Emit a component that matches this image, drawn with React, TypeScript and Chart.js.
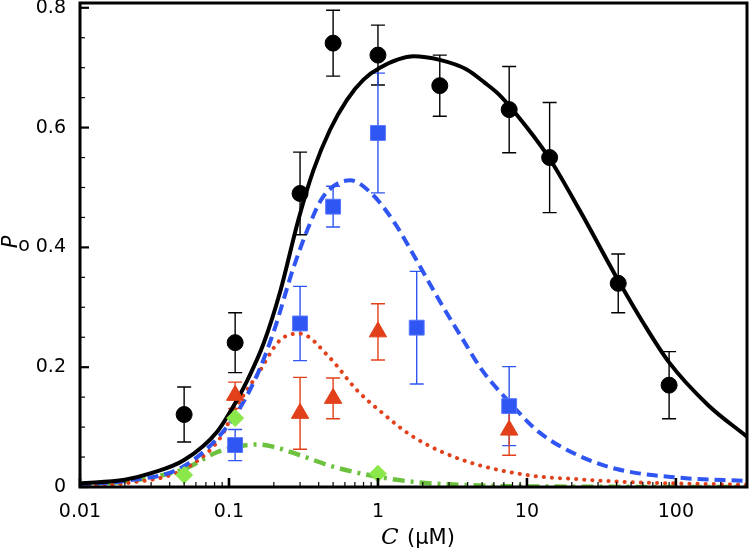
import React, { useEffect, useRef } from "react";
import { Chart, registerables } from "chart.js";
Chart.register(...registerables);

// ---- axis ticks ----
const xTickValues = [0.01, 0.1, 1, 10, 100];
const xTickLabels = ["0.01", "0.1", "1", "10", "100"];
const yTickValues = [0, 0.2, 0.4, 0.6, 0.8];
const yTickLabels = ["0", "0.2", "0.4", "0.6", "0.8"];

// ---- measured data (C in µM, Po, error) ----
const totalC = [0.05, 0.11, 0.3, 0.5, 1.0, 2.6, 7.6, 14.2, 41, 90];
const totalPo = [0.121, 0.241, 0.49, 0.741, 0.721, 0.67, 0.63, 0.55, 0.34, 0.17];
const totalErr = [0.046, 0.05, 0.069, 0.055, 0.05, 0.051, 0.072, 0.092, 0.049, 0.056];

const blueC = [0.11, 0.3, 0.5, 1.0, 1.82, 7.6];
const bluePo = [0.07, 0.273, 0.468, 0.591, 0.266, 0.135];
const blueErr = [0.026, 0.062, 0.034, 0.1, 0.094, 0.066];

const redC = [0.11, 0.3, 0.5, 1.0, 7.6];
const redPo = [0.153, 0.123, 0.148, 0.259, 0.095];
const redErr = [0.022, 0.06, 0.034, 0.047, 0.042];

const greenC = [0.05, 0.11, 1.0];
const greenPo = [0.02, 0.115, 0.022];

// ---- fitted curves ----
const fitTotalC = [0.01, 0.02, 0.03, 0.05, 0.083, 0.113, 0.131, 0.171, 0.22, 0.293, 0.369, 0.476, 0.618, 0.8, 1.03, 1.73, 2.6, 3.94, 5.2, 6.5, 10, 14.2, 22.6, 41, 60, 90, 164, 300];
const fitTotalPo = [0.006, 0.012, 0.023, 0.045, 0.092, 0.145, 0.175, 0.24, 0.325, 0.447, 0.529, 0.596, 0.646, 0.68, 0.7, 0.719, 0.713, 0.697, 0.675, 0.655, 0.6, 0.548, 0.462, 0.345, 0.275, 0.208, 0.137, 0.084];

const fitBlueC = [0.01, 0.02, 0.05, 0.1, 0.15, 0.2, 0.27, 0.35, 0.43, 0.65, 0.93, 1.3, 1.82, 2.6, 3.7, 5, 7.6, 12, 22, 40, 100, 300];
const fitBluePo = [0.005, 0.01, 0.035, 0.105, 0.18, 0.26, 0.365, 0.44, 0.485, 0.512, 0.487, 0.44, 0.378, 0.31, 0.247, 0.195, 0.142, 0.092, 0.053, 0.03, 0.016, 0.01];

const fitRedC = [0.01, 0.02, 0.05, 0.088, 0.11, 0.132, 0.154, 0.22, 0.3, 0.47, 0.72, 1.02, 1.72, 3.7, 10, 22, 50, 100, 300];
const fitRedPo = [0.002, 0.006, 0.03, 0.083, 0.13, 0.162, 0.186, 0.245, 0.256, 0.217, 0.162, 0.128, 0.084, 0.045, 0.02, 0.013, 0.008, 0.006, 0.004];

const fitGreenC = [0.01, 0.02, 0.03, 0.05, 0.083, 0.112, 0.154, 0.2, 0.3, 0.5, 1.0, 1.82, 3.0, 10, 300];
const fitGreenPo = [0.005, 0.009, 0.016, 0.03, 0.058, 0.067, 0.071, 0.067, 0.053, 0.034, 0.017, 0.008, 0.0045, 0.001, 0.0];

const BLACK = "#000000";
const BLUE = "#2f55f2";
const RED = "#e2401a";
const GREEN_LINE = "#6cc23e";
const GREEN_MARK = "#8ae84a";
const FONT = "'DejaVu Sans'";

const pts = (xs: number[], ys: number[]) => xs.map((x, i) => ({ x, y: ys[i] }));

const errorSets = [
  { c: totalC, p: totalPo, e: totalErr, color: BLACK },
  { c: blueC, p: bluePo, e: blueErr, color: BLUE },
  { c: redC, p: redPo, e: redErr, color: RED },
];

const decorPlugin = {
  id: "decor",
  beforeDatasetsDraw(chart: any) {
    const { ctx, scales, chartArea } = chart;
    const xs = scales.x;
    const ys = scales.y;
    ctx.save();
    ctx.beginPath();
    ctx.rect(chartArea.left, chartArea.top, chartArea.right - chartArea.left, chartArea.bottom - chartArea.top);
    ctx.clip();
    ctx.lineWidth = 1.4;
    for (const s of errorSets) {
      ctx.strokeStyle = s.color;
      for (let i = 0; i < s.c.length; i++) {
        const px = xs.getPixelForValue(s.c[i]);
        const y1 = ys.getPixelForValue(s.p[i] + s.e[i]);
        const y2 = ys.getPixelForValue(s.p[i] - s.e[i]);
        ctx.beginPath();
        ctx.moveTo(px, y1);
        ctx.lineTo(px, y2);
        ctx.moveTo(px - 7, y1);
        ctx.lineTo(px + 7, y1);
        ctx.moveTo(px - 7, y2);
        ctx.lineTo(px + 7, y2);
        ctx.stroke();
      }
    }
    ctx.restore();
  },
  afterDraw(chart: any) {
    const { ctx, chartArea, scales } = chart;
    const { left, right, top, bottom } = chartArea;
    const xs = scales.x;
    const ys = scales.y;
    ctx.save();
    ctx.strokeStyle = "#000";
    // y ticks (inward)
    for (let v = 0; v <= 0.8001; v += 0.05) {
      const py = ys.getPixelForValue(v);
      const major = Math.abs(v / 0.2 - Math.round(v / 0.2)) < 1e-6;
      ctx.lineWidth = major ? 2.2 : 1.2;
      ctx.beginPath();
      ctx.moveTo(left, py);
      ctx.lineTo(left + (major ? 9 : 5), py);
      ctx.stroke();
    }
    // x ticks (inward, log)
    for (let e = -2; e <= 2; e++) {
      for (let k = 1; k <= 9; k++) {
        const v = k * Math.pow(10, e);
        if (v > 300) continue;
        const px = xs.getPixelForValue(v);
        const major = k === 1;
        ctx.lineWidth = major ? 2.6 : 1.2;
        ctx.beginPath();
        ctx.moveTo(px, bottom);
        ctx.lineTo(px, bottom - (major ? 9 : 5));
        ctx.stroke();
      }
    }
    // frame
    ctx.lineWidth = 3;
    ctx.strokeRect(left, top, right - left, bottom - top);

    // x title: C (µM)
    ctx.fillStyle = "#000";
    ctx.textBaseline = "alphabetic";
    ctx.textAlign = "left";
    ctx.font = "italic 23px 'DejaVu Serif'";
    ctx.fillText("C", 381, 544);
    ctx.font = `21px ${FONT}`;
    ctx.fillText("(µM)", 407, 544);

    // y title: Po
    ctx.save();
    ctx.translate(17, 242);
    ctx.rotate(-Math.PI / 2);
    ctx.font = `italic 21px ${FONT}`;
    ctx.textAlign = "center";
    ctx.fillText("P", 0, 0);
    ctx.restore();
    ctx.font = `19px ${FONT}`;
    ctx.textAlign = "center";
    ctx.fillText("o", 24, 251);
    ctx.restore();
  },
};

export default function App() {
  const ref = useRef<HTMLCanvasElement | null>(null);
  useEffect(() => {
    if (!ref.current) return;
    const chart = new Chart(ref.current, {
      data: {
        datasets: [
          { type: "scatter", data: pts(totalC, totalPo), pointStyle: "circle", pointRadius: 8, backgroundColor: BLACK, borderColor: BLACK, borderWidth: 1, order: 0 },
          { type: "scatter", data: pts(blueC, bluePo), pointStyle: "rect", pointRadius: 10.5, backgroundColor: BLUE, borderColor: "#5577ff", borderWidth: 1, order: 0 },
          { type: "scatter", data: pts(redC, redPo), pointStyle: "triangle", pointRadius: 10, backgroundColor: RED, borderColor: RED, borderWidth: 1, order: 0 },
          { type: "scatter", data: pts(greenC, greenPo), pointStyle: "rectRot", pointRadius: 8.5, backgroundColor: GREEN_MARK, borderColor: GREEN_MARK, borderWidth: 1, order: 0 },
          { type: "line", data: pts(fitTotalC, fitTotalPo), borderColor: BLACK, borderWidth: 4, pointRadius: 0, cubicInterpolationMode: "monotone", fill: false, order: 1 },
          { type: "line", data: pts(fitBlueC, fitBluePo), borderColor: BLUE, borderWidth: 4, borderDash: [11, 6], pointRadius: 0, cubicInterpolationMode: "monotone", fill: false, order: 2 },
          { type: "line", data: pts(fitRedC, fitRedPo), borderColor: RED, borderWidth: 4, borderDash: [0.1, 8], borderCapStyle: "round", pointRadius: 0, cubicInterpolationMode: "monotone", fill: false, order: 3 },
          { type: "line", data: pts(fitGreenC, fitGreenPo), borderColor: GREEN_LINE, borderWidth: 4.5, borderDash: [12, 6, 3, 6], pointRadius: 0, cubicInterpolationMode: "monotone", fill: false, order: 4 },
        ],
      } as any,
      options: {
        animation: false,
        responsive: false,
        devicePixelRatio: 1,
        layout: { autoPadding: false, padding: { top: 3, right: 3, left: 0, bottom: 0 } },
        plugins: { legend: { display: false }, tooltip: { enabled: false } },
        scales: {
          x: {
            type: "logarithmic",
            min: 0.01,
            max: 300,
            grid: { display: false, drawTicks: false },
            border: { display: false },
            afterFit: (s: any) => { s.height = 62; s.paddingLeft = 0; s.paddingRight = 0; s.paddingTop = 0; s.paddingBottom = 0; },
            afterBuildTicks: (s: any) => { s.ticks = xTickValues.map((v) => ({ value: v })); },
            ticks: {
              autoSkip: false,
              maxRotation: 0,
              padding: 14,
              color: "#000",
              font: { family: FONT, size: 19 },
              callback: (v: any) => { const i = xTickValues.findIndex((t) => Math.abs(t - v) / t < 1e-6); return i >= 0 ? xTickLabels[i] : ""; },
            },
          },
          y: {
            type: "linear",
            min: 0,
            max: 0.808,
            grid: { display: false, drawTicks: false },
            border: { display: false },
            afterFit: (s: any) => { s.width = 80; s.paddingLeft = 0; s.paddingRight = 0; s.paddingTop = 0; s.paddingBottom = 0; },
            afterBuildTicks: (s: any) => { s.ticks = yTickValues.map((v) => ({ value: v })); },
            ticks: {
              padding: 14,
              color: "#000",
              font: { family: FONT, size: 19 },
              callback: (v: any) => { const i = yTickValues.findIndex((t) => Math.abs(t - v) < 1e-6); return i >= 0 ? yTickLabels[i] : ""; },
            },
          },
        },
      } as any,
      plugins: [decorPlugin],
    });
    return () => chart.destroy();
  }, []);
  return (
    <div style={{ position: "fixed", left: 0, top: 0, width: 750, height: 549, background: "#fff" }}>
      <canvas ref={ref} width={750} height={549} />
    </div>
  );
}
